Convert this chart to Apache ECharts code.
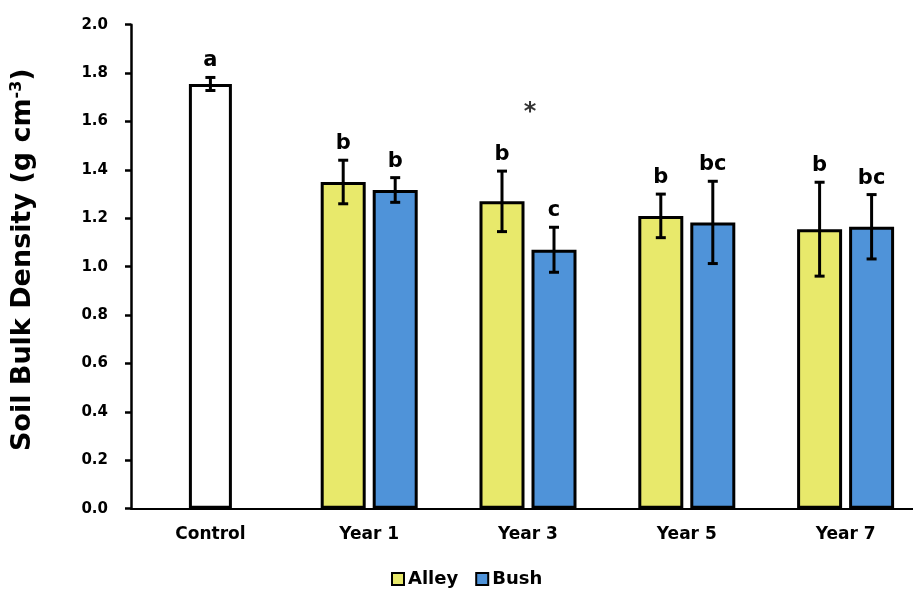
<!DOCTYPE html>
<html>
<head>
<meta charset="utf-8">
<script src="https://cdn.jsdelivr.net/npm/echarts@6/dist/echarts.min.js"></script>
<style>
  html, body { margin: 0; padding: 0; background: #fff; }
  #chart { width: 913px; height: 589px; }
</style>
</head>
<body>
<div id="chart"></div>
<script>
// Soil bulk density by treatment (mean ± error), with significance letters
const categories = ['Control', 'Year 1', 'Year 3', 'Year 5', 'Year 7'];

const controlMean    = [1.755, null, null, null, null];
const controlErr     = [0.027, null, null, null, null];
const controlLetters = ['a', null, null, null, null];

const alleyMean    = [null, 1.35, 1.27, 1.21, 1.155];
const alleyErr     = [null, 0.09, 0.125, 0.09, 0.194];
const alleyLetters = [null, 'b', 'b', 'b', 'b'];

const bushMean    = [null, 1.317, 1.07, 1.183, 1.165];
const bushErr     = [null, 0.051, 0.093, 0.17, 0.133];
const bushLetters = [null, 'b', 'c', 'bc', 'bc'];

const yMin = 0, yMax = 2, yStep = 0.2;

// significance marker between Alley and Bush in Year 3
const sigCategory = 'Year 3';
const sigValue = 1.66;
const sigText = '*';

const FONT = 'DejaVu Sans';
const CONTROL_W = 43;
const BAR_W = 45;
const BAR_GAP = 7 / 45;
const PAIR_OFFSET = BAR_W * (1 + BAR_GAP) / 2;

function errorData(means, errs) {
  const out = [];
  means.forEach((m, i) => { if (m != null) out.push([i, m, errs[i]]); });
  return out;
}

function errorBars(offset, letters) {
  return function (params, api) {
    const i = api.value(0), m = api.value(1), e = api.value(2);
    const x = api.coord([i, m])[0] + offset;
    const yHi = api.coord([i, m + e])[1];
    const yLo = api.coord([i, m - e])[1];
    const cap = 5;
    const ls = { stroke: '#000', lineWidth: 3 };
    const children = [
      { type: 'line', shape: { x1: x, y1: yHi, x2: x, y2: yLo }, style: ls },
      { type: 'line', shape: { x1: x - cap, y1: yHi, x2: x + cap, y2: yHi }, style: ls },
      { type: 'line', shape: { x1: x - cap, y1: yLo, x2: x + cap, y2: yLo }, style: ls }
    ];
    const letter = letters[i];
    if (letter) {
      children.push({
        type: 'text',
        x: x, y: yHi - 6,
        style: {
          text: letter, fill: '#000',
          fontSize: 21, fontWeight: 'bold', fontFamily: FONT,
          align: 'center', verticalAlign: 'bottom'
        }
      });
    }
    return { type: 'group', children: children };
  };
}

const chart = echarts.init(document.getElementById('chart'), null, { renderer: 'canvas' });

const option = {
  animation: false,
  backgroundColor: '#fff',
  grid: {
    left: 131, width: 794, top: 24.7, bottom: 80.3,
    containLabel: false, outerBoundsMode: 'none'
  },
  legend: {
    data: ['Alley', 'Bush'],
    left: 391, top: 570,
    padding: 0,
    icon: 'rect',
    itemWidth: 12, itemHeight: 12, itemGap: 17,
    itemStyle: { borderColor: '#000', borderWidth: 2 },
    textStyle: { fontSize: 18, fontWeight: 'bold', fontFamily: FONT, color: '#000', padding: [0, 0, 0, -1] }
  },
  xAxis: [
    {
      type: 'category', data: categories,
      axisLine: { lineStyle: { color: '#000', width: 2 } },
      axisTick: { show: false },
      axisLabel: { fontSize: 17, fontWeight: 'bold', fontFamily: FONT, color: '#000', margin: 17 }
    },
    { type: 'category', data: categories, show: false }
  ],
  yAxis: {
    type: 'value', min: yMin, max: yMax, interval: yStep,
    splitLine: { show: false },
    axisLine: { show: true, lineStyle: { color: '#000', width: 2.5 } },
    axisTick: { show: true, length: 6, lineStyle: { color: '#000', width: 2.5 } },
    axisLabel: {
      fontSize: 15, fontWeight: 'bold', fontFamily: FONT, color: '#000', margin: 23,
      formatter: v => v.toFixed(1)
    },
    name: 'Soil Bulk Density (g cm{sup|-3})',
    nameLocation: 'middle',
    nameGap: 95,
    nameTextStyle: {
      fontSize: 27, fontWeight: 'bold', fontFamily: FONT, color: '#000',
      padding: [0, 0, 0, 14],
      rich: {
        sup: { fontSize: 16, fontWeight: 'bold', fontFamily: FONT, color: '#000', verticalAlign: 'top' }
      }
    }
  },
  series: [
    {
      name: 'Control', type: 'bar', xAxisIndex: 0,
      data: controlMean, barWidth: CONTROL_W,
      itemStyle: { color: '#fff', borderColor: '#000', borderWidth: 3 }
    },
    {
      name: 'Alley', type: 'bar', xAxisIndex: 1,
      data: alleyMean, barWidth: BAR_W, barGap: (BAR_GAP * 100) + '%',
      itemStyle: { color: '#E8E96B', borderColor: '#000', borderWidth: 3 }
    },
    {
      name: 'Bush', type: 'bar', xAxisIndex: 1,
      data: bushMean, barWidth: BAR_W, barGap: (BAR_GAP * 100) + '%',
      itemStyle: { color: '#4F93D9', borderColor: '#000', borderWidth: 3 }
    },
    {
      type: 'custom', xAxisIndex: 0, renderItem: errorBars(0, controlLetters),
      data: errorData(controlMean, controlErr), encode: { x: 0, y: 1 }, z: 5
    },
    {
      type: 'custom', xAxisIndex: 1, renderItem: errorBars(-PAIR_OFFSET, alleyLetters),
      data: errorData(alleyMean, alleyErr), encode: { x: 0, y: 1 }, z: 5
    },
    {
      type: 'custom', xAxisIndex: 1, renderItem: errorBars(PAIR_OFFSET, bushLetters),
      data: errorData(bushMean, bushErr), encode: { x: 0, y: 1 }, z: 5
    },
    {
      type: 'scatter', xAxisIndex: 1, symbolSize: 0, silent: true,
      data: [[sigCategory, sigValue]],
      label: {
        show: true, position: 'inside', formatter: sigText, offset: [2, 6],
        fontSize: 24, fontWeight: 'bold', fontFamily: FONT, color: '#000'
      }
    }
  ]
};

chart.setOption(option);
</script>
</body>
</html>
